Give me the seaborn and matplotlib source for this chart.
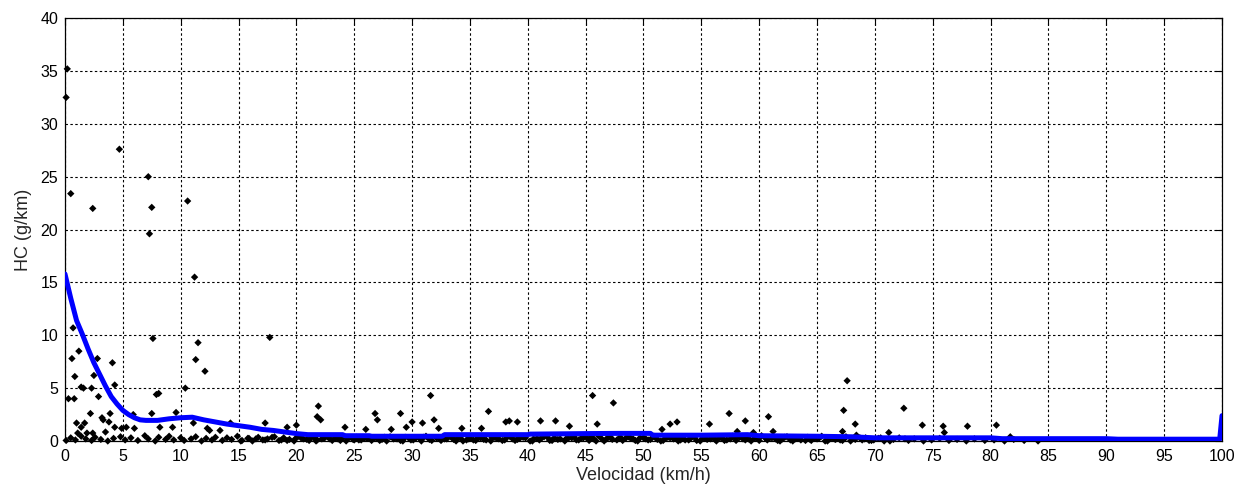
import numpy as np
import pandas as pd
import matplotlib
matplotlib.use("Agg")
import matplotlib.pyplot as plt
import seaborn as sns

# ---- data ----
speed_high = [0.2, 0.1, 0.5, 2.4, 4.7, 7.2, 7.5, 7.3, 10.6, 11.2, 7.6, 11.5, 11.3, 12.1, 10.4, 17.7,
              0.7, 0.6, 0.85, 1.2, 1.4, 1.6, 2.3, 2.5, 2.8, 2.9, 4.1, 4.3, 0.3, 0.8, 7.9, 8.1,
              21.9, 31.6, 45.6, 47.4, 67.6, 72.5]
hc_high = [35.2, 32.5, 23.4, 22.0, 27.6, 25.0, 22.1, 19.6, 22.7, 15.5, 9.7, 9.3, 7.7, 6.6, 5.0, 9.8,
           10.7, 7.8, 6.1, 8.5, 5.1, 5.0, 5.0, 6.2, 7.8, 4.2, 7.4, 5.3, 4.0, 4.0, 4.4, 4.5,
           3.3, 4.3, 4.3, 3.6, 5.7, 3.1]

speed_mid = [1.0, 2.2, 1.7, 1.4, 1.1, 1.9, 2.4, 3.2, 3.3, 3.9, 3.8, 3.5, 4.3, 4.9, 5.3, 5.9, 6.0,
             7.5, 8.2, 9.3, 9.6, 11.1, 12.3, 12.5, 13.4, 14.3, 17.3, 19.2, 20.0]
hc_mid = [1.7, 2.6, 1.7, 1.3, 0.75, 0.75, 0.75, 2.2, 2.0, 2.6, 1.8, 0.85, 1.3, 1.2, 1.3, 2.5, 1.2,
          2.6, 1.3, 1.3, 2.7, 1.7, 1.2, 1.0, 1.0, 1.7, 1.7, 1.3, 1.5]

speed_mid2 = [21.8, 22.1, 24.2, 26.0, 26.8, 27.0, 28.2, 29.0, 29.5, 30.0, 30.9, 31.9, 32.3, 34.3,
              36.0, 36.6, 38.1, 38.4, 39.1, 41.1, 42.4, 43.6, 46.0, 51.6, 52.3, 52.9, 55.7, 57.4,
              58.8, 60.8, 61.2, 58.1, 59.5, 67.3, 68.3, 67.2, 71.2, 74.1, 75.9, 76.0, 78.0, 80.5, 81.7]
hc_mid2 = [2.3, 2.0, 1.3, 1.1, 2.6, 2.0, 1.1, 2.6, 1.3, 1.8, 1.7, 2.0, 1.2, 1.2,
           1.2, 2.8, 1.8, 1.9, 1.8, 1.9, 1.9, 1.4, 1.6, 1.1, 1.6, 1.8, 1.6, 2.6,
           1.9, 2.3, 0.9, 0.9, 0.8, 2.9, 1.6, 0.9, 0.8, 1.5, 1.4, 0.8, 1.4, 1.5, 0.4]

speed_band = [0.1, 0.5, 0.9, 1.4, 1.8, 2.3, 2.6, 3.1, 3.7, 4.2,
              4.8, 5.2, 5.7, 6.3, 6.9, 7.2, 7.8, 8.1, 8.7, 9.0,
              9.4, 10.0, 10.3, 10.9, 11.3, 11.8, 12.2, 12.7, 13.0, 13.6,
              14.0, 14.4, 14.9, 15.3, 15.8, 16.2, 16.7, 17.1, 17.5, 18.1,
              18.5, 18.9, 19.4, 19.8, 20.2, 20.6, 21.1, 21.5, 21.8, 22.4,
              22.7, 23.1, 23.6, 24.0, 24.3, 24.9, 25.2, 25.6, 26.1, 26.5,
              26.9, 27.4, 27.8, 28.1, 28.7, 29.0, 29.4, 29.9, 30.3, 30.8,
              31.2, 31.5, 32.1, 32.5, 32.8, 33.4, 33.8, 34.2, 34.7, 35.0,
              35.5, 35.9, 36.2, 36.8, 37.1, 37.5, 38.0, 38.4, 38.9, 39.3,
              39.6, 40.2, 40.5, 41.0, 41.4, 41.9, 42.3, 42.6, 43.2, 43.5,
              44.0, 44.4, 44.8, 45.3, 45.7, 46.1, 46.6, 47.0, 47.3, 47.9,
              48.2, 48.7, 49.1, 49.5, 50.0, 50.4, 50.9, 51.2, 51.7, 52.1,
              52.6, 53.0, 53.3, 53.9, 54.2, 54.6, 55.1, 55.5, 56.0, 56.3,
              56.8, 57.2, 57.7, 58.0, 58.6, 59.0, 59.3, 59.9, 60.2, 60.7,
              61.1, 61.6, 62.0, 62.4, 62.9, 63.3, 63.6, 64.2, 64.5, 65.0,
              65.4, 65.9, 66.3, 66.6, 67.2, 67.5, 68.0, 68.4, 68.9, 69.2,
              69.7, 70.3, 70.8, 71.6, 72.1, 72.9, 73.4, 74.2, 74.9, 75.6,
              76.4, 77.1, 77.9, 78.6, 79.5, 80.3, 81.2, 82.0, 82.9, 84.1]
hc_band = [0.05, 0.30, 0.10, 0.45, 0.20, 0.05, 0.35, 0.15, 0.00, 0.25,
           0.40, 0.10, 0.30, 0.05, 0.50, 0.20, 0.00, 0.35, 0.15, 0.45,
           0.10, 0.30, 0.05, 0.20, 0.40, 0.00, 0.25, 0.10, 0.35, 0.05,
           0.30, 0.15, 0.45, 0.05, 0.25, 0.00, 0.35, 0.10, 0.20, 0.40,
           0.05, 0.30, 0.15, 0.00, 0.45, 0.20, 0.05, 0.35, 0.10, 0.25,
           0.40, 0.05, 0.20, 0.30, 0.00, 0.15, 0.35, 0.10, 0.25, 0.05,
           0.30, 0.15, 0.00, 0.40, 0.20, 0.05, 0.35, 0.10, 0.25, 0.00,
           0.45, 0.15, 0.30, 0.05, 0.20, 0.35, 0.00, 0.25, 0.10, 0.40,
           0.05, 0.30, 0.15, 0.00, 0.35, 0.20, 0.10, 0.45, 0.05, 0.25,
           0.35, 0.00, 0.20, 0.10, 0.40, 0.05, 0.30, 0.15, 0.00, 0.25,
           0.45, 0.10, 0.30, 0.05, 0.20, 0.50, 0.00, 0.35, 0.15, 0.25,
           0.05, 0.40, 0.20, 0.00, 0.30, 0.10, 0.45, 0.15, 0.05, 0.35,
           0.20, 0.00, 0.30, 0.10, 0.40, 0.05, 0.25, 0.15, 0.35, 0.00,
           0.30, 0.10, 0.45, 0.05, 0.20, 0.35, 0.00, 0.25, 0.50, 0.10,
           0.30, 0.05, 0.20, 0.40, 0.00, 0.25, 0.10, 0.35, 0.05, 0.20,
           0.45, 0.00, 0.30, 0.15, 0.05, 0.40, 0.20, 0.55, 0.10, 0.30,
           0.05, 0.25, 0.00, 0.15, 0.30, 0.05, 0.20, 0.00, 0.10, 0.25,
           0.05, 0.15, 0.00, 0.20, 0.05, 0.10, 0.00, 0.15, 0.05, 0.00]

speed_band2 = [15.2, 15.9, 16.5, 17.3, 17.9, 18.7, 19.2, 19.9, 20.4, 20.9,
               21.3, 21.7, 22.2, 22.9, 23.4, 23.8, 24.5, 25.0, 25.4, 25.9,
               26.3, 26.7, 27.2, 27.6, 28.4, 28.9, 29.2, 29.7, 30.1, 30.6,
               31.0, 31.7, 32.3, 33.0, 33.6, 34.0, 34.4, 34.9, 35.3, 35.7,
               36.4, 36.9, 37.3, 37.8, 38.2, 38.7, 39.1, 39.8, 40.4, 40.8,
               41.2, 41.7, 42.1, 42.8, 43.3, 43.8, 44.2, 44.6, 45.1, 45.5,
               45.9, 46.4, 46.8, 47.2, 47.7, 48.0, 48.5, 48.9, 49.3, 49.7,
               50.2, 50.6, 51.0, 51.5, 51.9, 52.3, 52.8, 53.2, 53.6, 54.0,
               54.4, 54.9, 55.3, 55.8, 56.2, 56.6, 57.0, 57.5, 57.9, 58.3,
               58.8, 59.1, 59.6, 60.0, 60.5, 60.9, 61.4, 61.8, 62.2, 62.7,
               63.1, 63.5, 64.0, 64.4, 64.8, 65.2, 65.7, 66.1, 66.5, 67.0,
               67.4, 67.9, 68.3, 68.7, 69.1, 69.5, 69.9, 70.5, 71.3, 72.6]
hc_band2 = [0.00, 0.25, 0.20, 0.10, 0.35, 0.10, 0.05, 0.20, 0.30, 0.15,
            0.35, 0.00, 0.20, 0.20, 0.30, 0.05, 0.25, 0.10, 0.10, 0.30,
            0.30, 0.25, 0.05, 0.35, 0.20, 0.20, 0.00, 0.30, 0.10, 0.30,
            0.35, 0.05, 0.25, 0.20, 0.15, 0.35, 0.00, 0.20, 0.10, 0.30,
            0.10, 0.30, 0.25, 0.05, 0.35, 0.20, 0.15, 0.30, 0.00, 0.25,
            0.30, 0.35, 0.05, 0.20, 0.20, 0.30, 0.10, 0.25, 0.30, 0.35,
            0.00, 0.20, 0.20, 0.30, 0.10, 0.35, 0.30, 0.25, 0.05, 0.30,
            0.20, 0.15, 0.35, 0.00, 0.25, 0.30, 0.30, 0.10, 0.10, 0.20,
            0.35, 0.00, 0.25, 0.20, 0.15, 0.30, 0.05, 0.20, 0.30, 0.35,
            0.10, 0.20, 0.25, 0.05, 0.30, 0.30, 0.20, 0.00, 0.35, 0.10,
            0.20, 0.25, 0.05, 0.15, 0.30, 0.30, 0.00, 0.20, 0.20, 0.10,
            0.25, 0.00, 0.15, 0.30, 0.20, 0.05, 0.10, 0.30, 0.00, 0.20]

curve_speed = [0, 0.5, 1.0, 1.5, 2.0, 2.5, 3.0, 3.5, 4.0, 4.5, 5.0, 5.5, 6.0, 6.5, 7.0, 8.0, 9.0,
               10.0, 11.0, 12.0, 13.0, 14.0, 15.0, 16.0, 17.0, 18.0, 19.0, 20.0, 21.0, 24.0, 24.2,
               26.3, 26.5, 32.6, 32.8, 40.0, 40.2, 45.0, 47.8, 50.6, 50.8, 55.0, 59.0, 60.0, 65.0,
               68.0, 70.0, 80.0, 81.0, 90.0, 91.0, 99.8, 100.0]
curve_hc = [15.8, 13.5, 11.4, 10.1, 8.7, 7.4, 6.3, 5.2, 4.2, 3.5, 2.9, 2.5, 2.2, 2.0, 1.95, 1.95, 2.1,
            2.2, 2.25, 2.0, 1.8, 1.6, 1.45, 1.3, 1.1, 1.0, 0.85, 0.7, 0.6, 0.6, 0.5,
            0.5, 0.45, 0.45, 0.6, 0.6, 0.65, 0.7, 0.72, 0.72, 0.55, 0.55, 0.6, 0.5, 0.45,
            0.4, 0.3, 0.3, 0.22, 0.22, 0.17, 0.17, 2.4]

x_ticks = list(range(0, 101, 5))
y_ticks = list(range(0, 41, 5))

# ---- build frames ----
pts = pd.DataFrame({
    "Velocidad": speed_band + speed_band2 + speed_mid + speed_mid2 + speed_high,
    "HC": hc_band + hc_band2 + hc_mid + hc_mid2 + hc_high,
})
curve = pd.DataFrame({"Velocidad": curve_speed, "HC": curve_hc})

sns.set_style("white")
plt.rcParams["font.family"] = ["Liberation Sans", "DejaVu Sans"]

fig = plt.figure(figsize=(12.4, 4.9), dpi=100)
ax = fig.add_axes([0.0524, 0.1, 0.9331, 0.863])

sns.scatterplot(data=pts, x="Velocidad", y="HC", ax=ax, marker="D", s=14,
                color="black", edgecolor="none", linewidth=0, zorder=3, clip_on=False)
sns.lineplot(data=curve, x="Velocidad", y="HC", ax=ax, color="#0000FF",
             linewidth=3.6, estimator=None, sort=False, zorder=4)

ax.set_xlim(0, 100)
ax.set_ylim(0, 40)
ax.set_xticks(x_ticks)
ax.set_yticks(y_ticks)
ax.grid(True, color="black", linestyle=(0, (2.2, 2.2)), linewidth=0.8)
ax.set_axisbelow(True)
for s in ax.spines.values():
    s.set_visible(True)
    s.set_color("black")
    s.set_linewidth(0.9)
ax.tick_params(direction="in", length=5, width=0.8, top=True, right=True,
               labelsize=11.5, colors="black")
ax.tick_params(axis="x", pad=6)
ax.tick_params(axis="y", pad=5)
ax.set_xlabel("Velocidad (km/h)", fontsize=13, labelpad=2)
ax.set_ylabel("HC (g/km)", fontsize=13, labelpad=6)

fig.savefig("out.png", dpi=100, facecolor="white")
